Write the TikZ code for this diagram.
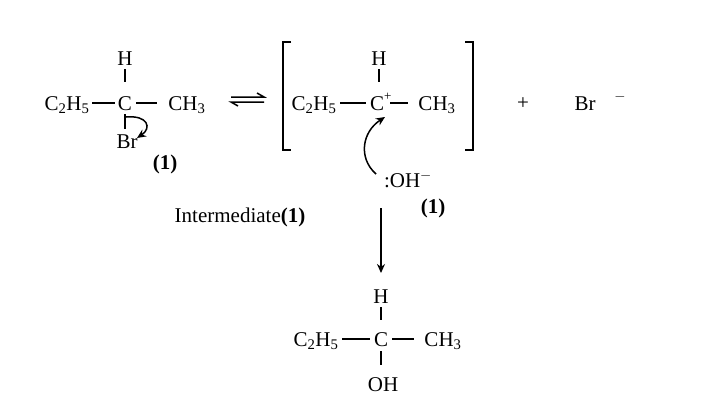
\documentclass[tikz,border=0pt]{standalone}
\usepackage{fontspec}
\setmainfont{Liberation Serif}
\usetikzlibrary{arrows.meta}
\newcommand{\sbs}[1]{\textsubscript{#1}}
\begin{document}
\begin{tikzpicture}[x=1pt,y=-1pt,font=\fontsize{21}{24}\selectfont,
  t/.style={inner sep=0pt,anchor=base},
  bd/.style={line width=1.5pt},
  ar/.style={line width=1.5pt,-{Stealth[length=9pt,width=8pt]}}]
\useasboundingbox (0,0) rectangle (714,405);
% molecule 1
\node[t] (a1) at (67,110) {C\sbs{2}H\sbs{5}};
\node[t] (c1) at (125,110) {C};
\node[t] (m1) at (187,110) {CH\sbs{3}};
\node[t] (h1) at (125,65) {H};
\node[t] (b1) at (127,148) {Br};
\node[t,font=\bfseries\fontsize{21}{24}\selectfont] (n1) at (165,169) {(1)};
\draw[bd] (92,103)--(115,103);
\draw[bd] (136,103)--(157,103);
\draw[bd] (125,69)--(125,82);
\draw[bd] (125,114)--(125,129);
\draw[ar] (126,117) .. controls (148,115) and (152,128) .. (137,138);
% equilibrium
\draw[line width=1.5pt] (231,97)--(264,97)--(257,93);
\draw[line width=1.5pt] (264,102)--(231,102)--(238,106);
% brackets
\draw[line width=1.5pt] (291,42)--(283,42)--(283,150)--(291,150);
\draw[line width=1.5pt] (465,42)--(473,42)--(473,150)--(465,150);
% molecule 2
\node[t] (a2) at (314,110) {C\sbs{2}H\sbs{5}};
\node[t] (c2) at (377,110) {C\rlap{\raisebox{0.45em}{\fontsize{13}{14}\selectfont+}}};
\node[t] (m2) at (437,110) {CH\sbs{3}};
\node[t] (h2) at (379,65) {H};
\draw[bd] (340,103)--(366,103);
\draw[bd] (390,103)--(408,103);
\draw[bd] (379,69)--(379,82);
\node[t] (oh) at (408,187) {:OH$^-$};
\draw[ar] (376,174) .. controls (358,158) and (362,132) .. (385,117);
\node[t,font=\bfseries\fontsize{21}{24}\selectfont] (n2) at (433,213) {(1)};
\node[t] (im) at (240,222) {Intermediate\textbf{(1)}};
\node[t] (pl) at (523,109) {+};
\node[t] (br) at (585,110) {Br};
\node[t] (mi) at (620,100) {\fontsize{14}{15}\selectfont$-$};
% arrow
\coordinate (v1) at (381,208);
\coordinate (v2) at (381,273);
\draw[ar] (v1)--(v2);
% product
\node[t] (h3) at (381,303) {H};
\node[t] (a3) at (316,346) {C\sbs{2}H\sbs{5}};
\node[t] (c3) at (381,346) {C};
\node[t] (m3) at (443,346) {CH\sbs{3}};
\node[t] (o3) at (383,391) {OH};
\draw[bd] (342,339)--(370,339);
\draw[bd] (392,339)--(414,339);
\draw[bd] (381,307)--(381,320);
\draw[bd] (381,351)--(381,365);
\end{tikzpicture}
\end{document}
